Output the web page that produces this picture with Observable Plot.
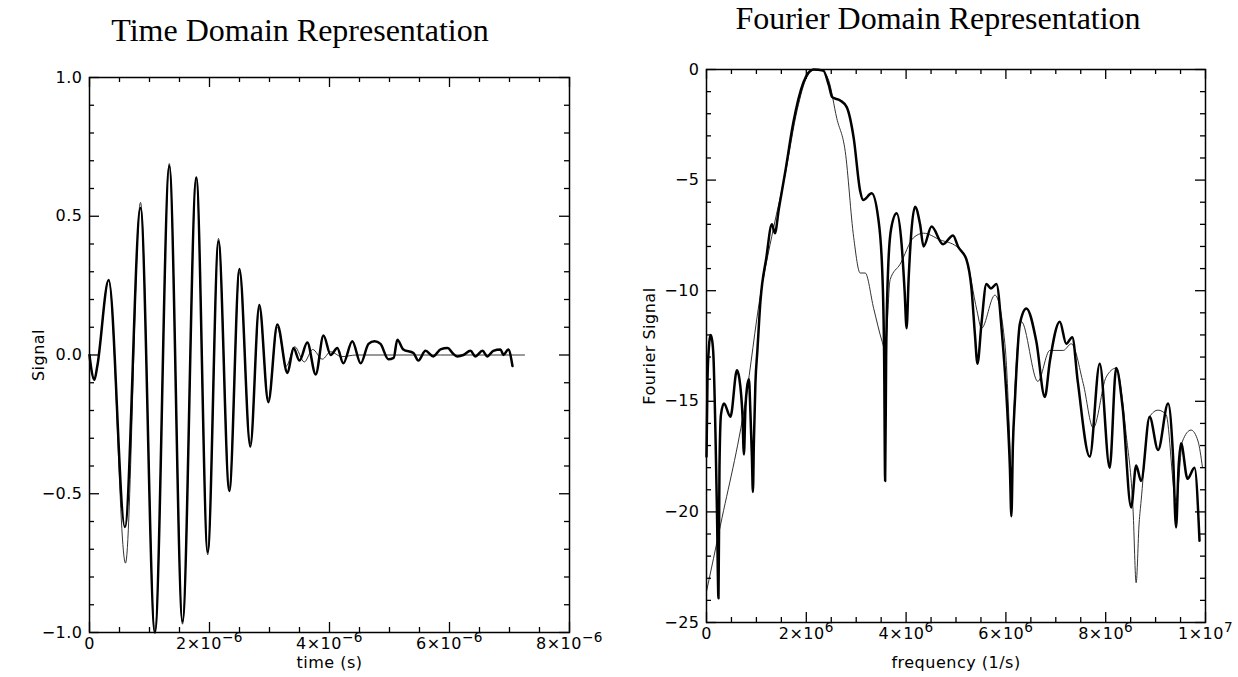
<!DOCTYPE html>
<html><head><meta charset="utf-8">
<script src="https://cdn.jsdelivr.net/npm/d3@7"></script>
<script src="https://cdn.jsdelivr.net/npm/@observablehq/plot@0.6"></script>
<style>
body{margin:0;background:#fff;}
#wrap{position:relative;width:1238px;height:677px;overflow:hidden;background:#fff;}
.title{position:absolute;font-family:"Liberation Serif","Times New Roman",serif;font-size:32px;line-height:1;white-space:nowrap;transform:translateX(-50%);color:#000;}
.panel{position:absolute;top:50px;}
</style></head><body>
<div id="wrap">
<div class="title" style="left:300px;top:14px">Time Domain Representation</div>
<div class="title" style="left:938px;top:2px">Fourier Domain Representation</div>
<div id="left" class="panel" style="left:0px"></div>
<div id="right" class="panel" style="left:619px"></div>
</div>
<script>
// ---- Time domain (time in microseconds, signal) ----
const timeMeasured = [0.00,0.03,0.08,0.13,0.32,0.59,0.85,1.09,1.33,1.55,1.78,1.97,2.15,2.33,2.50,2.68,2.83,2.98,3.13,3.30,3.40,3.50,3.63,3.77,3.90,4.02,4.13,4.23,4.38,4.52,4.65,4.75,4.85,4.98,5.07,5.13,5.23,5.40,5.48,5.60,5.73,5.85,5.97,6.05,6.13,6.23,6.35,6.43,6.55,6.63,6.73,6.85,6.90,6.98,7.05];
const signalMeasured = [0.00,-0.05,-0.09,-0.04,0.27,-0.62,0.53,-1.00,0.68,-0.96,0.64,-0.71,0.41,-0.49,0.31,-0.33,0.18,-0.17,0.11,-0.065,0.025,-0.02,0.045,-0.07,0.07,0.0,0.025,-0.03,0.05,-0.03,0.04,0.05,0.04,-0.015,-0.01,0.055,0.02,0.007,-0.02,0.015,-0.005,0.02,0.025,0.007,-0.005,0.0,0.015,-0.005,0.015,-0.005,0.015,0.02,0.0,0.02,-0.04];
const timeModel = [0.00,0.03,0.08,0.13,0.32,0.60,0.85,1.09,1.33,1.55,1.78,1.97,2.15,2.33,2.50,2.68,2.83,2.98,3.13,3.28,3.42,3.58,3.72,3.88,4.02,4.20,4.45,7.25];
const signalModel = [0.00,-0.05,-0.09,-0.04,0.27,-0.75,0.55,-1.00,0.69,-0.97,0.64,-0.72,0.42,-0.48,0.30,-0.32,0.17,-0.16,0.10,-0.04,0.03,-0.025,0.02,-0.015,0.012,-0.006,0.0,0.0];
const timeTicks = [0,2e-6,4e-6,6e-6,8e-6];
const timeTickLabels = ["0","2×10^−6","4×10^−6","6×10^−6","8×10^−6"];
const timeMinor = [0.5e-6,1e-6,1.5e-6,2.5e-6,3e-6,3.5e-6,4.5e-6,5e-6,5.5e-6,6.5e-6,7e-6,7.5e-6];
const signalTicks = [-1,-0.5,0,0.5,1];
const signalTickLabels = ["−1.0","−0.5","0.0","0.5","1.0"];
const signalMinor = [-0.9,-0.8,-0.7,-0.6,-0.4,-0.3,-0.2,-0.1,0.1,0.2,0.3,0.4,0.6,0.7,0.8,0.9];

// ---- Fourier domain (frequency in MHz, log signal) ----
const freqMeasured = [0.00,0.02,0.05,0.08,0.11,0.14,0.18,0.21,0.24,0.26,0.29,0.35,0.48,0.61,0.66,0.72,0.75,0.78,0.81,0.85,0.88,0.91,0.93,0.95,0.98,1.02,1.08,1.20,1.31,1.37,1.45,1.58,1.74,1.94,2.14,2.34,2.45,2.52,2.68,2.81,2.95,3.08,3.14,3.31,3.44,3.52,3.56,3.58,3.60,3.64,3.70,3.81,3.91,3.97,4.01,4.05,4.10,4.18,4.28,4.35,4.51,4.74,4.94,5.04,5.21,5.31,5.38,5.43,5.51,5.61,5.70,5.81,5.92,6.03,6.08,6.11,6.14,6.18,6.28,6.41,6.61,6.78,6.88,7.08,7.21,7.33,7.44,7.68,7.88,8.08,8.21,8.34,8.51,8.61,8.71,8.88,9.05,9.25,9.35,9.41,9.46,9.51,9.64,9.78,9.88];
const fourierMeasured = [-17.5,-14.0,-12.5,-12.0,-12.2,-13.0,-16.5,-20.0,-23.9,-18.0,-15.6,-15.1,-15.7,-13.6,-14.0,-15.6,-17.4,-15.3,-14.4,-14.0,-15.5,-17.5,-19.1,-16.8,-14.2,-12.7,-10.5,-8.5,-7.0,-7.4,-6.3,-4.6,-2.4,-0.6,0.0,-0.05,-0.7,-1.25,-1.4,-1.7,-3.1,-5.5,-5.9,-5.6,-6.7,-9.0,-13.0,-18.6,-13.0,-9.0,-7.2,-6.5,-7.9,-10.0,-11.7,-9.5,-7.5,-6.2,-7.0,-8.0,-7.1,-7.9,-7.5,-8.0,-8.6,-9.9,-12.0,-13.3,-11.5,-9.7,-9.9,-9.7,-11.9,-15.5,-18.0,-20.2,-17.0,-15.0,-11.5,-10.8,-12.3,-14.8,-13.2,-11.4,-12.4,-12.1,-14.1,-17.5,-13.3,-18.0,-13.5,-15.3,-19.8,-17.9,-18.6,-15.7,-17.2,-15.1,-17.5,-20.7,-18.0,-16.9,-18.5,-18.0,-21.3];
const freqModel = [0.00,0.28,0.78,1.08,1.34,1.58,1.82,2.01,2.18,2.31,2.45,2.61,2.78,2.95,3.08,3.18,3.35,3.52,3.58,3.68,3.88,4.15,4.35,4.68,5.01,5.21,5.42,5.51,5.78,5.98,6.08,6.11,6.16,6.31,6.64,6.88,7.15,7.31,7.55,7.75,8.01,8.21,8.41,8.55,8.61,8.67,8.71,8.88,9.05,9.21,9.41,9.54,9.71,9.85,9.94];
const fourierModel = [-23.6,-20.6,-15.0,-10.2,-7.2,-4.7,-1.8,-0.35,0.0,-0.05,-0.5,-2.2,-3.7,-7.6,-9.2,-9.2,-10.8,-12.3,-12.7,-9.5,-8.8,-7.6,-7.4,-7.7,-8.0,-8.6,-10.9,-11.7,-10.2,-12.4,-17.0,-19.0,-15.5,-11.4,-14.1,-12.7,-12.7,-12.4,-14.2,-16.2,-13.9,-13.5,-16.5,-20.0,-23.2,-20.5,-19.5,-15.7,-15.4,-15.6,-19.5,-16.8,-16.3,-16.8,-18.0];
const freqTicks = [0,2e6,4e6,6e6,8e6,1e7];
const freqTickLabels = ["0","2×10^6","4×10^6","6×10^6","8×10^6","1×10^7"];
const freqMinor = [0.5e6,1e6,1.5e6,2.5e6,3e6,3.5e6,4.5e6,5e6,5.5e6,6.5e6,7e6,7.5e6,8.5e6,9e6,9.5e6];
const fourierTicks = [0,-5,-10,-15,-20,-25];
const fourierTickLabels = ["0","−5","−10","−15","−20","−25"];
const fourierMinor = [-1,-2,-3,-4,-6,-7,-8,-9,-11,-12,-13,-14,-16,-17,-18,-19,-21,-22,-23,-24];

function makePanel(o) {
  const fw = o.width - o.marginLeft - o.marginRight;
  const fh = o.height - o.marginTop - o.marginBottom;
  const MAJ = 10, MIN = 5;
  const fx = new Map(o.xTicks.map((d, i) => [d, o.xLabels[i]]));
  const fy = new Map(o.yTicks.map((d, i) => [d, o.yLabels[i]]));
  const ts = {stroke: "black", strokeWidth: 1.3};
  const svg = Plot.plot({
    width: o.width, height: o.height,
    marginLeft: o.marginLeft, marginRight: o.marginRight,
    marginTop: o.marginTop, marginBottom: o.marginBottom,
    x: {domain: o.xDomain},
    y: {domain: o.yDomain},
    style: {fontFamily: "DejaVu Sans, sans-serif", fontSize: "16px", background: "white", color: "black", overflow: "visible", letterSpacing: "0.5px"},
    marks: [
      Plot.line(o.thin, {x: "x", y: "y", curve: "monotone-x", stroke: "#333", strokeWidth: 1}),
      Plot.line(o.thick, {x: "x", y: "y", curve: "monotone-x", stroke: "black", strokeWidth: 2.5}),
      Plot.tickX(o.xTicks, {x: d => d, insetTop: fh - MAJ, ...ts}),
      Plot.tickX(o.xTicks, {x: d => d, insetBottom: fh - MAJ, ...ts}),
      Plot.tickX(o.xMinor, {x: d => d, insetTop: fh - MIN, ...ts}),
      Plot.tickX(o.xMinor, {x: d => d, insetBottom: fh - MIN, ...ts}),
      Plot.tickY(o.yTicks, {y: d => d, insetRight: fw - MAJ, ...ts}),
      Plot.tickY(o.yTicks, {y: d => d, insetLeft: fw - MAJ, ...ts}),
      Plot.tickY(o.yMinor, {y: d => d, insetRight: fw - MIN, ...ts}),
      Plot.tickY(o.yMinor, {y: d => d, insetLeft: fw - MIN, ...ts}),
      Plot.frame({stroke: "black", strokeWidth: 1.5}),
      Plot.axisX(o.xTicks, {anchor: "bottom", tickSize: 0, tickPadding: 5, tickFormat: d => fx.get(d), label: null}),
      Plot.axisY(o.yTicks, {anchor: "left", tickSize: 0, tickPadding: 7, tickFormat: d => fy.get(d), label: null}),
      Plot.text([o.xTitle], {text: d => d, frameAnchor: "bottom", dy: o.xTitleDy, textAnchor: "middle", lineAnchor: "middle"}),
      Plot.text([o.yTitle], {text: d => d, frameAnchor: "left", dx: o.yTitleDx, rotate: -90, textAnchor: "middle", lineAnchor: "middle"})
    ]
  });
  // render exponents as raised text
  svg.querySelectorAll("text").forEach(t => {
    const s = t.textContent;
    if (s.includes("^")) {
      const [b, e] = s.split("^");
      t.textContent = "";
      const t1 = document.createElementNS("http://www.w3.org/2000/svg", "tspan");
      t1.textContent = b;
      const t2 = document.createElementNS("http://www.w3.org/2000/svg", "tspan");
      t2.textContent = e;
      t2.setAttribute("dy", "-0.5em");
      t2.setAttribute("font-size", "0.85em");
      t.appendChild(t1); t.appendChild(t2);
    }
  });
  return svg;
}

const leftThick = timeMeasured.map((t, i) => ({x: t * 1e-6, y: signalMeasured[i]}));
const leftThin = timeModel.map((t, i) => ({x: t * 1e-6, y: signalModel[i]}));
const rightThick = freqMeasured.map((f, i) => ({x: f * 1e6, y: fourierMeasured[i]}));
const rightThin = freqModel.map((f, i) => ({x: f * 1e6, y: fourierModel[i]}));

document.getElementById("left").appendChild(makePanel({
  width: 619, height: 627, marginLeft: 89, marginRight: 50, marginTop: 27, marginBottom: 45,
  xDomain: [0, 8e-6], yDomain: [-1, 1],
  thick: leftThick, thin: leftThin,
  xTicks: timeTicks, xLabels: timeTickLabels, xMinor: timeMinor,
  yTicks: signalTicks, yLabels: signalTickLabels, yMinor: signalMinor,
  xTitle: "time (s)", xTitleDy: 30, yTitle: "Signal", yTitleDx: -51
}));
document.getElementById("right").appendChild(makePanel({
  width: 619, height: 627, marginLeft: 87, marginRight: 33, marginTop: 19, marginBottom: 55,
  xDomain: [0, 1e7], yDomain: [-25, 0],
  thick: rightThick, thin: rightThin,
  xTicks: freqTicks, xLabels: freqTickLabels, xMinor: freqMinor,
  yTicks: fourierTicks, yLabels: fourierTickLabels, yMinor: fourierMinor,
  xTitle: "frequency (1/s)", xTitleDy: 40, yTitle: "Fourier Signal", yTitleDx: -57
}));
</script>
</body></html>
